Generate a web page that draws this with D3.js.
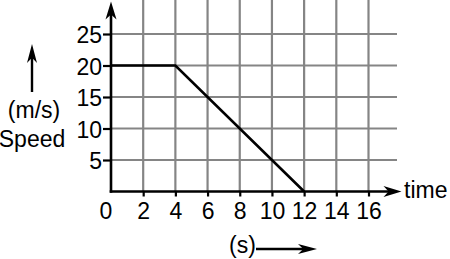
<!DOCTYPE html>
<html>
<head>
<meta charset="utf-8">
<script src="https://cdn.jsdelivr.net/npm/d3@7"></script>
<style>
  html, body { margin: 0; padding: 0; background: #fff; }
  svg { display: block; }
  text { font-family: "Liberation Sans", Arial, sans-serif; fill: #000; }
</style>
</head>
<body>
<svg id="chart" width="450" height="259"></svg>
<script>
// Data
const timeValues = [0, 4, 12];
const speedValues = [20, 20, 0];
const xTicks = [0, 2, 4, 6, 8, 10, 12, 14, 16];
const yTicks = [5, 10, 15, 20, 25];
const xGrid = [2, 4, 6, 8, 10, 12, 14, 16];
const yGrid = [5, 10, 15, 20, 25];

const FS = 23;
const svg = d3.select("#chart");
const x = d3.scaleLinear().domain([0, 16]).range([111, 368.5]);
const y = d3.scaleLinear().domain([0, 25]).range([191.5, 34]);
const xEnd = 397;   // horizontal grid right end
const yTopGrid = -2; // vertical grid top end

// Grid
const grid = svg.append("g").attr("stroke", "#858585").attr("stroke-width", 2.2);
grid.selectAll("line.v").data(xGrid).enter().append("line")
  .attr("x1", d => x(d)).attr("x2", d => x(d))
  .attr("y1", y(0)).attr("y2", yTopGrid);
grid.selectAll("line.h").data(yGrid).enter().append("line")
  .attr("x1", x(0)).attr("x2", xEnd)
  .attr("y1", d => y(d)).attr("y2", d => y(d));

// Axes with D3 axis generators
const xAxis = d3.axisBottom(x).tickValues(xTicks).tickSize(5).tickPadding(6.5)
  .tickFormat(d3.format("d"));
const gx = svg.append("g").attr("transform", `translate(0,${y(0)})`).call(xAxis);
gx.select(".domain").remove();
gx.selectAll(".tick line").attr("stroke", "#000").attr("stroke-width", 2.2);
gx.selectAll(".tick text").attr("font-size", FS).attr("font-family", "Liberation Sans, Arial, sans-serif")
  .attr("fill", "#000");
gx.selectAll(".tick").filter(d => d === 0).select("text").attr("x", -5.5);
gx.selectAll(".tick").filter(d => d === 0).select("line").remove();

const yAxis = d3.axisLeft(y).tickValues(yTicks).tickSize(8).tickPadding(1)
  .tickFormat(d3.format("d"));
const gy = svg.append("g").attr("transform", `translate(${x(0)},0)`).call(yAxis);
gy.select(".domain").remove();
gy.selectAll(".tick line").attr("stroke", "#000").attr("stroke-width", 2.2);
gy.selectAll(".tick text").attr("font-size", FS).attr("font-family", "Liberation Sans, Arial, sans-serif")
  .attr("fill", "#000").attr("dy", "0.38em");

// Axis lines with arrows
function arrowHead(tx, ty, dir, len, half) {
  if (dir === "up") {
    return `M${tx},${ty} L${tx + half},${ty + len} L${tx},${ty + len * 0.72} L${tx - half},${ty + len} Z`;
  } else {
    return `M${tx},${ty} L${tx - len},${ty - half} L${tx - len * 0.72},${ty} L${tx - len},${ty + half} Z`;
  }
}
svg.append("line").attr("x1", x(0)).attr("x2", x(0)).attr("y1", y(0) + 1.2).attr("y2", 8)
  .attr("stroke", "#000").attr("stroke-width", 2.6);
svg.append("path").attr("d", arrowHead(x(0), 1.5, "up", 18, 5.5)).attr("fill", "#000");
svg.append("line").attr("x1", x(0) - 1.3).attr("x2", 394).attr("y1", y(0)).attr("y2", y(0))
  .attr("stroke", "#000").attr("stroke-width", 2.6);
svg.append("path").attr("d", arrowHead(401.5, y(0), "right", 18, 5.5)).attr("fill", "#000");

// Data line
const line = d3.line().x((d, i) => x(timeValues[i])).y(d => y(d));
svg.append("path").datum(speedValues).attr("d", line)
  .attr("fill", "none").attr("stroke", "#000").attr("stroke-width", 2.6)
  .attr("stroke-linejoin", "miter");

// Labels
svg.append("text").attr("x", 404).attr("y", 198).attr("font-size", FS).text("time");
svg.append("text").attr("x", 34).attr("y", 118).attr("font-size", FS).attr("text-anchor", "middle").text("(m/s)");
svg.append("text").attr("x", 32).attr("y", 146.5).attr("font-size", FS).attr("text-anchor", "middle").text("Speed");
svg.append("text").attr("x", 242.5).attr("y", 253).attr("font-size", FS).attr("text-anchor", "middle").text("(s)");

// Left up-arrow
svg.append("line").attr("x1", 32).attr("x2", 32).attr("y1", 92).attr("y2", 55)
  .attr("stroke", "#000").attr("stroke-width", 2.4);
svg.append("path").attr("d", arrowHead(32, 44, "up", 19, 5)).attr("fill", "#000");
// Bottom right-arrow
svg.append("line").attr("x1", 256).attr("x2", 305).attr("y1", 249).attr("y2", 249)
  .attr("stroke", "#000").attr("stroke-width", 2.4);
svg.append("path").attr("d", arrowHead(317, 249, "right", 19, 5)).attr("fill", "#000");
</script>
</body>
</html>
